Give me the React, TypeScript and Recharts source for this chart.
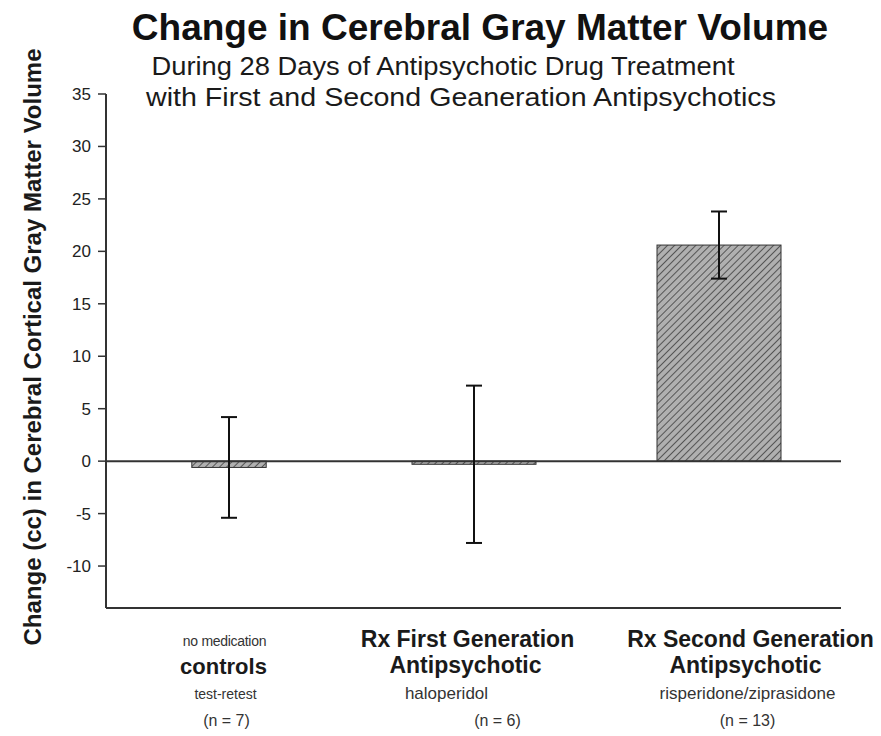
import React from 'react';
import { BarChart, Bar, XAxis, YAxis, ReferenceLine, ErrorBar } from 'recharts';

const categories = ['controls', 'Rx First Generation Antipsychotic', 'Rx Second Generation Antipsychotic'];
const meanChange = [-0.6, -0.3, 20.6];
const errorSize = [4.8, 7.5, 3.2];
const topSmall = ['no medication', '', ''];
const mainLine1 = ['controls', 'Rx First Generation', 'Rx Second Generation'];
const mainLine2 = ['', 'Antipsychotic', 'Antipsychotic'];
const drugLabels = ['test-retest', 'haloperidol', 'risperidone/ziprasidone'];
const sampleLabels = ['(n = 7)', '(n = 6)', '(n = 13)'];
const yTicks = [-10, -5, 0, 5, 10, 15, 20, 25, 30, 35];

const data = categories.map((c, i) => ({ name: c, value: meanChange[i], err: errorSize[i] }));

const FONT = 'Liberation Sans, Arial, Helvetica, sans-serif';

const HatchBar = (props: any) => {
  const { x, y, width, height, index } = props;
  let w = width;
  let xx = x;
  if (index === 0) {
    w = width * 0.6;
    xx = x + (width - w) / 2;
  }
  const top = height < 0 ? y + height : y;
  const h = Math.abs(height);
  return (
    <rect x={xx} y={top} width={w} height={Math.max(h, 1)} fill="url(#hatch)" stroke="#333" strokeWidth={1} />
  );
};

const XTick = (props: any) => {
  const { x, y, payload } = props;
  const i = payload.index;
  const base = y - 8; // axis line position
  const off = [
    [-4, -5, -3, -2],
    [-6, -8, -27, 24],
    [32, 27, 29, 29],
  ][i];
  return (
    <g fontFamily={FONT}>
      {i === 0 ? (
        <>
          <text x={x + off[0]} y={base + 38} textAnchor="middle" fontSize={14} fill="#333" letterSpacing={-0.3}>{topSmall[i]}</text>
          <text x={x + off[1]} y={base + 66} textAnchor="middle" fontSize={22} fontWeight="bold" fill="#1a1a1a">{mainLine1[i]}</text>
        </>
      ) : (
        <>
          <text x={x + off[0]} y={base + 39} textAnchor="middle" fontSize={23} fontWeight="bold" fill="#1a1a1a">{mainLine1[i]}</text>
          <text x={x + off[1]} y={base + 65} textAnchor="middle" fontSize={23} fontWeight="bold" fill="#1a1a1a">{mainLine2[i]}</text>
        </>
      )}
      <text x={x + off[2]} y={base + 91} textAnchor="middle" fontSize={i === 0 ? 14 : 17} fill="#333">{drugLabels[i]}</text>
      <text x={x + off[3]} y={base + 118} textAnchor="middle" fontSize={16} fill="#333">{sampleLabels[i]}</text>
    </g>
  );
};

export default function App() {
  return (
    <div style={{ position: 'absolute', left: 0, top: 0, width: 881, height: 736, background: '#fff' }}>
      <BarChart
        width={881}
        height={736}
        data={data}
        margin={{ top: 94, right: 40, left: 0, bottom: 0 }}
        barCategoryGap={0}
      >
        <defs>
          <pattern id="hatch" patternUnits="userSpaceOnUse" width="5" height="5" patternTransform="rotate(45)">
            <rect x="0" y="0" width="5" height="5" fill="#b0b0b0" />
            <line x1="0" y1="0" x2="0" y2="5" stroke="#555" strokeWidth="2" />
          </pattern>
        </defs>
        <XAxis
          dataKey="name"
          axisLine={{ stroke: '#333', strokeWidth: 2 }}
          tickLine={false}
          height={128}
          tick={<XTick />}
          interval={0}
        />
        <YAxis
          domain={[-14, 35]}
          ticks={yTicks}
          width={106}
          axisLine={{ stroke: '#333', strokeWidth: 2 }}
          tickLine={{ stroke: '#333', strokeWidth: 1.5 }}
          tickSize={8}
          tickMargin={7}
          tick={{ fontSize: 17, fill: '#222', fontFamily: FONT }}
          allowDataOverflow
        />
        <ReferenceLine y={0} stroke="#333" strokeWidth={2} />
        <Bar dataKey="value" barSize={124} shape={<HatchBar />} isAnimationActive={false}>
          <ErrorBar dataKey="err" width={8} stroke="#111" strokeWidth={2} />
        </Bar>
      </BarChart>
      <svg width={881} height={736} style={{ position: 'absolute', left: 0, top: 0, pointerEvents: 'none' }} fontFamily={FONT}>
        <text x={480} y={40} textAnchor="middle" fontSize={37} fontWeight="bold" fill="#111">Change in Cerebral Gray Matter Volume</text>
        <text x={443} y={75} textAnchor="middle" fontSize={26} fill="#1a1a1a" textLength={583} lengthAdjust="spacingAndGlyphs">During 28 Days of Antipsychotic Drug Treatment</text>
        <text x={461} y={106} textAnchor="middle" fontSize={26} fill="#1a1a1a" textLength={630} lengthAdjust="spacingAndGlyphs">with First and Second Geaneration Antipsychotics</text>
        <text x={41} y={347} textAnchor="middle" fontSize={24} fontWeight="bold" fill="#1a1a1a" transform="rotate(-90 41 347)">Change (cc) in Cerebral Cortical Gray Matter Volume</text>
      </svg>
    </div>
  );
}
